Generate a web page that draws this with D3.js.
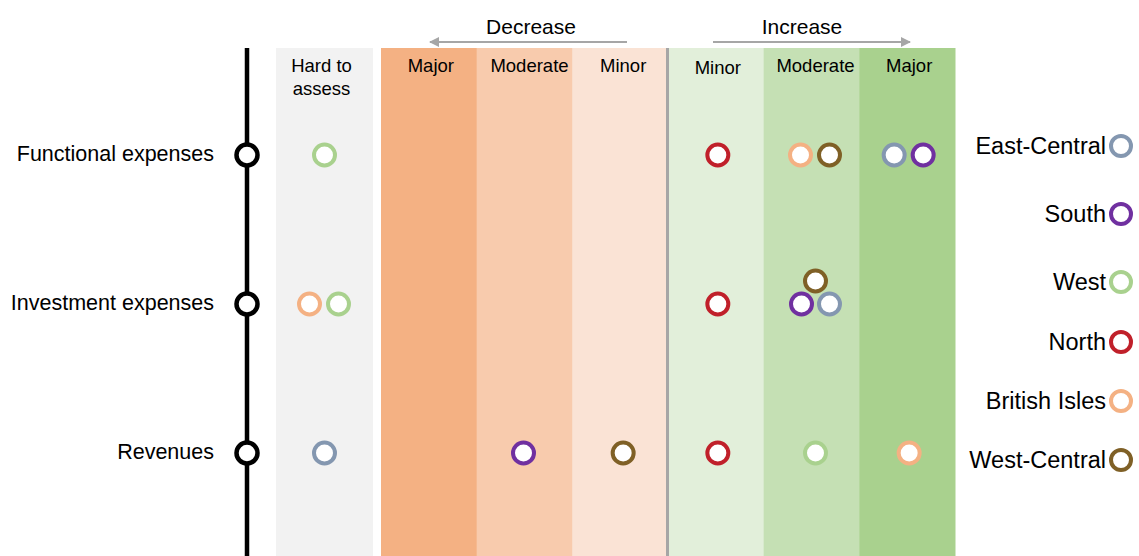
<!DOCTYPE html>
<html>
<head>
<meta charset="utf-8">
<script src="https://cdn.jsdelivr.net/npm/d3@7"></script>
<style>
  body { margin: 0; background: #fff; }
  text { font-family: "Liberation Sans", Arial, sans-serif; fill: #000; }
</style>
</head>
<body>
<script>

var rows = ["Functional expenses", "Investment expenses", "Revenues"];
var levels = ["Decrease major", "Decrease moderate", "Decrease minor", "Increase minor", "Increase moderate", "Increase major"];
var levelLabels = ["Major", "Moderate", "Minor", "Minor", "Moderate", "Major"];
var levelColors = ["#f4b183", "#f8cbad", "#fae3d5", "#e2efda", "#c5e0b4", "#a9d18e"];
var regions = ["East-Central", "South", "West", "North", "British Isles", "West-Central"];
var regionColors = ["#8497b0", "#7030a0", "#a9d18e", "#c0202a", "#f4b183", "#7f6026"];

// placements per row, in drawing order
var functional = [["West", "Hard"], ["North", "Increase minor"], ["British Isles", "Increase moderate"],
  ["West-Central", "Increase moderate"], ["East-Central", "Increase major"], ["South", "Increase major"]];
var investment = [["British Isles", "Hard"], ["West", "Hard"], ["North", "Increase minor"],
  ["South", "Increase moderate"], ["East-Central", "Increase moderate"], ["West-Central", "Increase moderate"]];
var revenues = [["East-Central", "Hard"], ["South", "Decrease moderate"], ["West-Central", "Decrease minor"],
  ["North", "Increase minor"], ["West", "Increase moderate"], ["British Isles", "Increase major"]];

var width = 1139, height = 556, panelTop = 48;

var svg = d3.select("body").append("svg")
    .attr("width", width)
    .attr("height", height);

var x = d3.scaleBand().domain(levels).range([381, 955]);
var bw = x.bandwidth();
var hardX = 276, hardW = 97;
var y = d3.scalePoint().domain(rows).range([155, 453]);
var color = d3.scaleOrdinal().domain(regions).range(regionColors);

// small nudges so labels/markers sit as in the original slide
var nudge = {"Decrease major": 2, "Decrease moderate": -1, "Decrease minor": 3,
  "Increase minor": 2, "Increase moderate": 4, "Increase major": 2};

function cx(level) {
  return level === "Hard" ? hardX + hardW / 2 : x(level) + bw / 2 + nudge[level];
}

// background columns
svg.append("rect")
    .attr("x", hardX).attr("y", panelTop)
    .attr("width", hardW).attr("height", height - panelTop)
    .attr("fill", "#f2f2f2");

svg.selectAll(".col")
    .data(levels)
  .enter().append("rect")
    .attr("class", "col")
    .attr("x", function(d) { return x(d); })
    .attr("y", panelTop)
    .attr("width", bw + 0.5)
    .attr("height", height - panelTop)
    .attr("fill", function(d, i) { return levelColors[i]; });

svg.append("rect")
    .attr("x", x("Increase minor") - 2).attr("y", panelTop)
    .attr("width", 3).attr("height", height - panelTop)
    .attr("fill", "#a6a6a6");

// column headers
svg.append("text")
    .attr("x", hardX + hardW / 2 - 3).attr("y", 72)
    .attr("text-anchor", "middle").style("font-size", "18.5px")
    .text("Hard to");
svg.append("text")
    .attr("x", hardX + hardW / 2 - 3).attr("y", 95)
    .attr("text-anchor", "middle").style("font-size", "18.5px")
    .text("assess");

svg.selectAll(".head")
    .data(levels)
  .enter().append("text")
    .attr("class", "head")
    .attr("x", function(d) { return x(d) + bw / 2 + (d === "Decrease moderate" ? 5 : nudge[d]); })
    .attr("y", function(d) { return d === "Increase minor" ? 74 : 72; })
    .attr("text-anchor", "middle")
    .style("font-size", "18.5px")
    .text(function(d, i) { return levelLabels[i]; });

// decrease / increase arrows
var defs = svg.append("defs");
defs.append("marker")
    .attr("id", "arr")
    .attr("viewBox", "0 0 10 10")
    .attr("refX", 9).attr("refY", 5)
    .attr("markerWidth", 5).attr("markerHeight", 5)
    .attr("orient", "auto-start-reverse")
  .append("path")
    .attr("d", "M0,0L10,5L0,10z")
    .attr("fill", "#a6a6a6");

svg.append("text")
    .attr("x", 531).attr("y", 34)
    .attr("text-anchor", "middle").style("font-size", "21px")
    .text("Decrease");
svg.append("line")
    .attr("x1", 627).attr("x2", 430).attr("y1", 42).attr("y2", 42)
    .attr("stroke", "#a6a6a6").attr("stroke-width", 2)
    .attr("marker-end", "url(#arr)");

svg.append("text")
    .attr("x", 802).attr("y", 34)
    .attr("text-anchor", "middle").style("font-size", "21px")
    .text("Increase");
svg.append("line")
    .attr("x1", 713).attr("x2", 910).attr("y1", 42).attr("y2", 42)
    .attr("stroke", "#a6a6a6").attr("stroke-width", 2)
    .attr("marker-end", "url(#arr)");

// timeline
svg.append("line")
    .attr("x1", 247).attr("x2", 247).attr("y1", panelTop).attr("y2", height)
    .attr("stroke", "#000").attr("stroke-width", 4.5);

svg.selectAll(".node")
    .data(rows)
  .enter().append("circle")
    .attr("class", "node")
    .attr("cx", 247).attr("cy", function(d) { return y(d); })
    .attr("r", 10.5)
    .attr("fill", "#fff").attr("stroke", "#000").attr("stroke-width", 4.5);

svg.selectAll(".rowlab")
    .data(rows)
  .enter().append("text")
    .attr("class", "rowlab")
    .attr("x", 214)
    .attr("y", function(d) { return y(d) + 6; })
    .attr("text-anchor", "end")
    .style("font-size", "21.5px")
    .text(function(d) { return d; });

// markers, spread within a cell
var placements = [functional, investment, revenues];
var marks = [];
placements.forEach(function(list, r) {
  var groups = d3.group(list, function(d) { return d[1]; });
  groups.forEach(function(items, level) {
    var n = items.length;
    items.forEach(function(d, i) {
      var dx = 0, dy = 0;
      if (n === 2) { dx = i === 0 ? -15 : 14; }
      if (n === 3) {
        if (i < 2) { dx = i === 0 ? -14 : 14; }
        else { dx = 0; dy = -23; }
      }
      marks.push({region: d[0], x: cx(level) + dx, y: y(rows[r]) + dy});
    });
  });
});

svg.selectAll(".mark")
    .data(marks)
  .enter().append("circle")
    .attr("class", "mark")
    .attr("cx", function(d) { return d.x; })
    .attr("cy", function(d) { return d.y; })
    .attr("r", 10.5)
    .attr("fill", "#fff")
    .attr("stroke", function(d) { return color(d.region); })
    .attr("stroke-width", 4);

// legend
var legendY = [146, 214, 282, 342, 401, 460];
var lg = svg.selectAll(".leg")
    .data(regions)
  .enter().append("g")
    .attr("class", "leg")
    .attr("transform", function(d, i) { return "translate(1121," + legendY[i] + ")"; });

lg.append("circle")
    .attr("r", 10)
    .attr("fill", "#fff")
    .attr("stroke", function(d) { return color(d); })
    .attr("stroke-width", 4);

lg.append("text")
    .attr("x", -15).attr("y", 8)
    .attr("text-anchor", "end")
    .style("font-size", "23.5px")
    .text(function(d) { return d; });

</script>
</body>
</html>
